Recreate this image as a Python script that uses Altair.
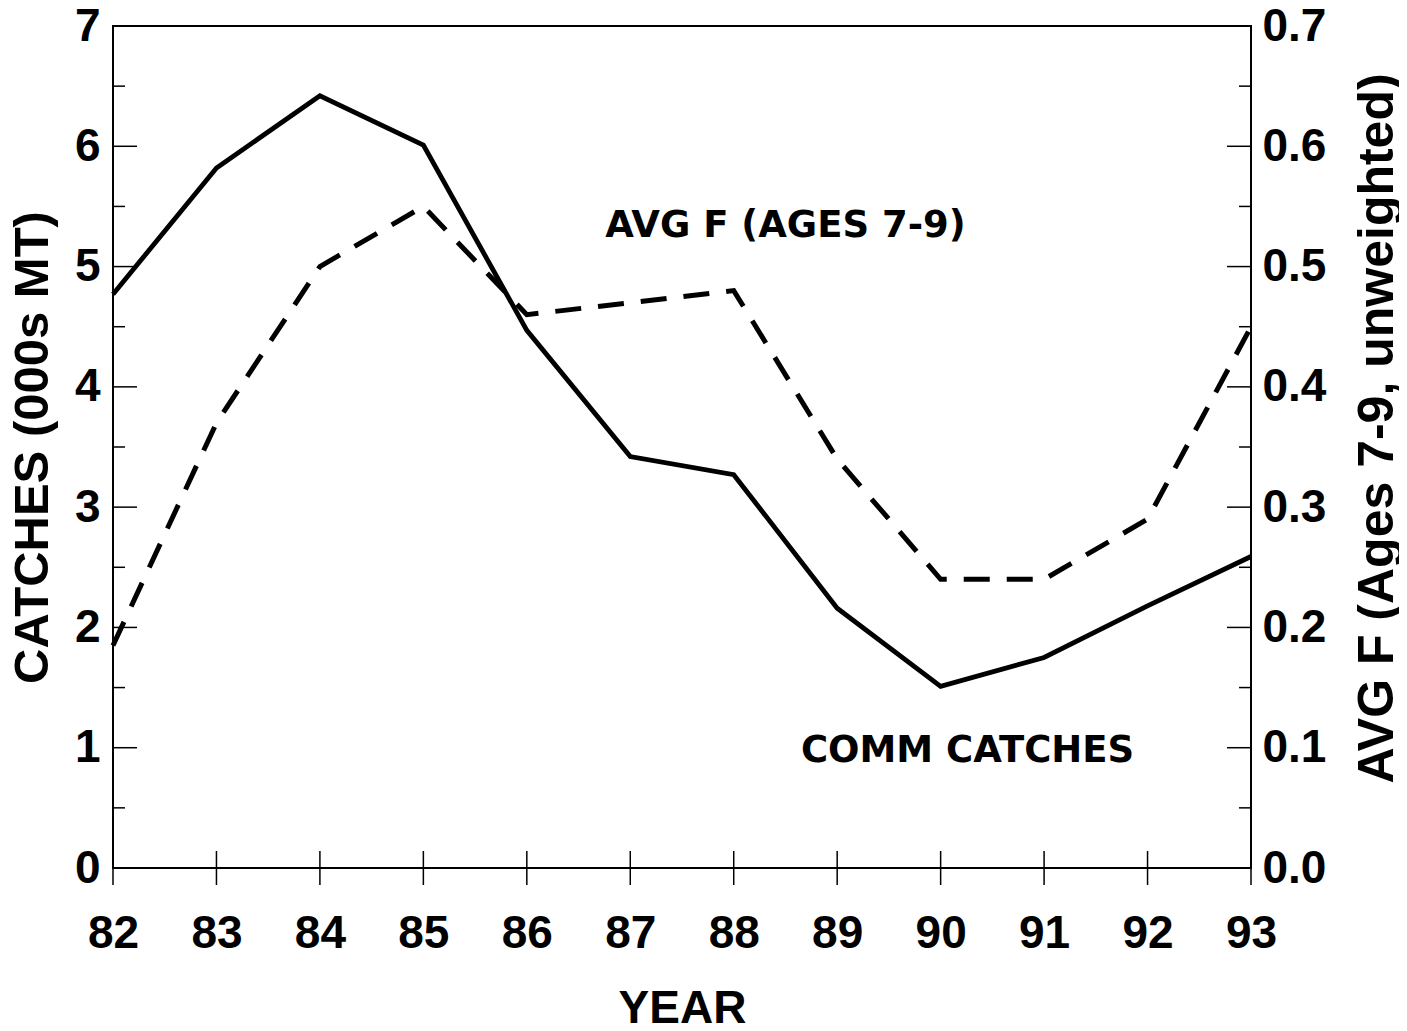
import altair as alt
import pandas as pd

# ---- data ----
years = [82, 83, 84, 85, 86, 87, 88, 89, 90, 91, 92, 93]
catches = [4.77, 5.82, 6.42, 6.01, 4.47, 3.42, 3.27, 2.16, 1.51, 1.75, 2.18, 2.59]
avg_f = [0.185, 0.37, 0.50, 0.55, 0.46, 0.47, 0.48, 0.34, 0.24, 0.24, 0.29, 0.45]

left_ticks = [0, 1, 2, 3, 4, 5, 6, 7]
left_minor = [0.5, 1.5, 2.5, 3.5, 4.5, 5.5, 6.5]
right_ticks = [0.0, 0.1, 0.2, 0.3, 0.4, 0.5, 0.6, 0.7]

labels = ["AVG F (AGES 7-9)", "COMM CATCHES"]
label_x = [88.5, 90.26]
label_y = [5.34, 0.97]

W, H = 1138, 842
FONT = "Liberation Sans"

df = pd.DataFrame({"year": years, "catches": catches, "f": avg_f})
major_df = pd.DataFrame({"catches": left_ticks})
minor_df = pd.DataFrame({"catches": left_minor})
year_df = pd.DataFrame({"year": years})
lab_df = pd.DataFrame({"text": labels, "year": label_x, "catches": label_y})

xscale = alt.Scale(domain=[82, 93], nice=False, zero=False)
yleft = alt.Scale(domain=[0, 7], nice=False)
yright = alt.Scale(domain=[0, 0.7], nice=False)

xaxis = alt.Axis(values=years, format="d", title="YEAR", tickSize=0, domain=False,
                 grid=False, labelFont=FONT, labelFontSize=46, labelFontWeight="bold",
                 labelColor="black", labelPadding=43, labelFlush=False,
                 titleFont=FONT, titleFontSize=46,
                 titleFontWeight="bold", titleColor="black", titlePadding=30)

yaxis = alt.Axis(values=left_ticks, format="d", title="CATCHES (000s MT)",
                 tickSize=0, domain=False, grid=False, labelFont=FONT,
                 labelFontSize=46, labelFontWeight="bold", labelColor="black",
                 labelPadding=13, labelFlush=False, titleFont=FONT, titleFontSize=49,
                 titleFontWeight="bold", titleColor="black", titlePadding=17)

X = alt.X("year:Q", scale=xscale, axis=xaxis, title="YEAR")
Y = alt.Y("catches:Q", scale=yleft, axis=yaxis, title="CATCHES (000s MT)")

catch_line = alt.Chart(df).mark_line(color="black", strokeWidth=4.8).encode(x=X, y=Y)


def tick_layer(data, x1, x2):
    return alt.Chart(data).mark_rule(color="black", strokeWidth=1.5).encode(
        y=Y, x=alt.value(x1), x2=alt.value(x2),
    )


xticks = alt.Chart(year_df).mark_rule(color="black", strokeWidth=1.5).encode(
    x=X, y=alt.value(H - 17), y2=alt.value(H + 17),
)

texts = alt.Chart(lab_df).mark_text(font="DejaVu Sans", fontSize=37, fontWeight="bold",
                                     color="black", align="center", baseline="middle").encode(
    x=X, y=Y, text="text:N",
)

left_group = alt.layer(
    catch_line,
    tick_layer(major_df, 0, 24), tick_layer(minor_df, 0, 12),
    tick_layer(major_df, W, W - 24), tick_layer(minor_df, W, W - 12),
    xticks, texts,
)

f_line = alt.Chart(df).mark_line(color="black", strokeWidth=5, strokeDash=[26, 17]).encode(
    x=X,
    y=alt.Y("f:Q", scale=yright, title="AVG F (Ages 7-9, unweighted)",
            axis=alt.Axis(orient="right", values=right_ticks, format=".1f",
                          title="AVG F (Ages 7-9, unweighted)", tickSize=0, domain=False,
                          grid=False, labelFont=FONT, labelFontSize=46, labelFlush=False,
                          labelFontWeight="bold", labelColor="black", labelPadding=11,
                          titleFont=FONT, titleFontSize=50, titleFontWeight="bold",
                          titleColor="black", titleAngle=270, titleBaseline="top",
                          titlePadding=27, titleY=402)),
)

chart = alt.layer(left_group, f_line).resolve_scale(y="independent").properties(
    width=W, height=H,
    autosize=alt.AutoSizeParams(type="none"),
    padding={"left": 105, "top": 18, "right": 148, "bottom": 155},
    background="white",
).configure_view(stroke="black", strokeWidth=2)

chart.save("out.html", embed_options={"renderer": "svg", "actions": False})
